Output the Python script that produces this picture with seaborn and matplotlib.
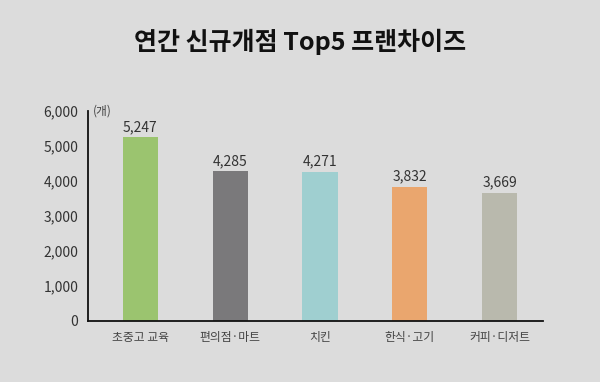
import matplotlib
matplotlib.use("Agg")
import matplotlib.pyplot as plt
import seaborn as sns
import pandas as pd

categories = ["초중고 교육", "편의점·마트", "치킨", "한식·고기", "커피·디저트"]
values = [5247, 4285, 4271, 3832, 3669]
value_labels = ["5,247", "4,285", "4,271", "3,832", "3,669"]
colors = ["#9bc46f", "#7a797b", "#9fcfd0", "#eaa66e", "#b9b9ad"]
yticks = [0, 1000, 2000, 3000, 4000, 5000, 6000]
ytick_labels = ["0", "1,000", "2,000", "3,000", "4,000", "5,000", "6,000"]

sns.set_theme(style="white")
plt.rcParams["font.family"] = ["Noto Sans CJK KR", "DejaVu Sans"]

bg = "#dcdcdc"
fig = plt.figure(figsize=(6, 3.82), dpi=100, facecolor=bg)
ax = fig.add_axes([88/600, 1 - 321/382, (543-88)/600, (321-111)/382])
ax.set_facecolor(bg)

df = pd.DataFrame({"cat": categories, "val": values})
sns.barplot(data=df, x="cat", y="val", hue="cat", palette=colors, legend=False,
            width=0.39, ax=ax, saturation=1, edgecolor="none", linewidth=0)

ax.set_xlim(-0.58, 4.48)
ax.set_ylim(0, 6000)
ax.set_yticks(yticks)
ax.set_yticklabels(ytick_labels, fontsize=10, color="#333333")
ax.set_xticks(range(len(categories)))
ax.set_xticklabels(categories, fontsize=8.5, color="#444444")
ax.tick_params(axis="both", length=0)
ax.tick_params(axis="y", pad=7)
ax.tick_params(axis="x", pad=7)
ax.set_xlabel("")
ax.set_ylabel("")
for s in ["top", "right"]:
    ax.spines[s].set_visible(False)
for s in ["left", "bottom"]:
    ax.spines[s].set_color("#111111")
    ax.spines[s].set_linewidth(1.3)

for i, (v, lab) in enumerate(zip(values, value_labels)):
    ax.text(i, v + 90, lab, ha="center", va="bottom", fontsize=10, color="#333333")

ax.text(0.01, 6000, "(개)", transform=ax.get_yaxis_transform(), ha="left", va="center",
        fontsize=8.5, color="#444444")

fig.text(0.5, 1 - 42/382, "연간 신규개점 Top5 프랜차이즈", ha="center", va="center",
         fontsize=18, fontweight="bold", color="#111111")

fig.savefig("out.png", dpi=100, facecolor=bg)
